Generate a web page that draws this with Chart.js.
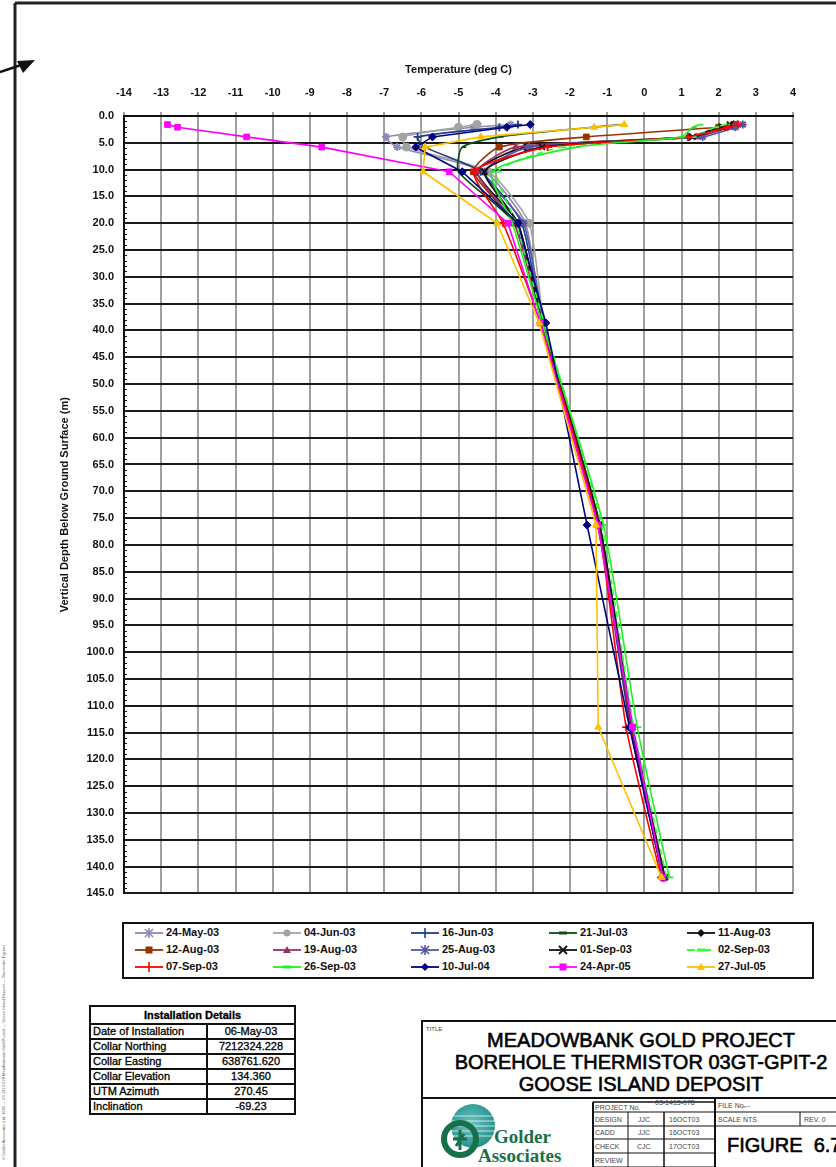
<!DOCTYPE html>
<html>
<head>
<meta charset="utf-8">
<script src="https://cdn.jsdelivr.net/npm/chart.js@4.4.1/dist/chart.umd.min.js"></script>
<style>
  body { margin: 0; background: #fff; font-family: "Liberation Sans", Arial, sans-serif; }
  #page { position: relative; width: 836px; height: 1167px; overflow: hidden; background: #fff; }
  #chartWrap { position: absolute; left: 0; top: 0; width: 836px; height: 910px; }
  #frame { position: absolute; left: 0; top: 0; }
  #legend { position: absolute; left: 122px; top: 922px; width: 688px; height: 53px; border: 2px solid #111; }
  .lg { position: absolute; height: 14px; font-size: 11px; font-weight: bold; color: #111; white-space: nowrap; }
  .lg svg { position: absolute; left: 0; top: 1px; }
  .lg span { position: absolute; left: 33px; top: 0; }
  #install { position: absolute; left: 89px; top: 1005px; border-collapse: collapse; font-size: 11px; color: #000; -webkit-text-stroke: 0.3px #000; }
  #install td { border: 2px solid #111; padding: 0 2px; height: 13px; line-height: 13px; }
  #install td.v { text-align: center; width: 82px; }
  #install td.k { width: 111px; }
  #install th { border: 2px solid #111; font-weight: bold; height: 14px; line-height: 14px; }
  #titleBlock { position: absolute; left: 421px; top: 1020px; width: 430px; height: 160px; border: 2px solid #111; }
  .tb { position: absolute; color: #000; white-space: nowrap; }
  .big { -webkit-text-stroke: 0.6px #000; }
  .sm { font-size: 7px; color: #444; }
  #sideText { position: absolute; left: 1px; top: 1160px; transform-origin: 0 0; transform: rotate(-90deg); font-size: 4px; color: #555; white-space: nowrap; }
</style>
</head>
<body>
<div id="page">
  <svg id="frame" width="836" height="1167">
    <line x1="15" y1="3" x2="836" y2="3" stroke="#222" stroke-width="3"/>
    <line x1="15" y1="3" x2="15" y2="1167" stroke="#222" stroke-width="3"/>
    <line x1="0" y1="72" x2="24" y2="64" stroke="#111" stroke-width="2.5"/>
    <polygon points="17,61 35,60 23,73" fill="#111"/>
  </svg>
  <div id="chartWrap"><canvas id="thermChart" width="836" height="910"></canvas></div>
  <div id="legend"></div>

  <table id="install">
    <tr><th colspan="2">Installation Details</th></tr>
    <tr><td class="k">Date of Installation</td><td class="v">06-May-03</td></tr>
    <tr><td class="k">Collar Northing</td><td class="v">7212324.228</td></tr>
    <tr><td class="k">Collar Easting</td><td class="v">638761.620</td></tr>
    <tr><td class="k">Collar Elevation</td><td class="v">134.360</td></tr>
    <tr><td class="k">UTM Azimuth</td><td class="v">270.45</td></tr>
    <tr><td class="k">Inclination</td><td class="v">-69.23</td></tr>
  </table>

  <div id="titleBlock">
    <div class="tb sm" style="left:3px;top:4px;font-size:6px;">TITLE</div>
    <div class="tb big" style="left:0;width:436px;top:7px;text-align:center;font-size:20px;line-height:22px;">MEADOWBANK GOLD PROJECT<br>BOREHOLE THERMISTOR 03GT-GPIT-2<br>GOOSE ISLAND DEPOSIT</div>
    <svg style="position:absolute;left:0;top:0" width="430" height="160">
      <line x1="0" y1="76" x2="430" y2="76" stroke="#111" stroke-width="2"/>
      <line x1="170" y1="80" x2="170" y2="160" stroke="#111" stroke-width="2"/>
      <line x1="170" y1="80" x2="292" y2="80" stroke="#111" stroke-width="1.5"/>
      <line x1="292" y1="76" x2="292" y2="160" stroke="#111" stroke-width="2"/>
      <line x1="170" y1="90" x2="430" y2="90" stroke="#111" stroke-width="1"/>
      <line x1="170" y1="104" x2="430" y2="104" stroke="#111" stroke-width="1"/>
      <line x1="170" y1="117" x2="292" y2="117" stroke="#111" stroke-width="1"/>
      <line x1="170" y1="131" x2="292" y2="131" stroke="#111" stroke-width="1"/>
      <line x1="170" y1="145" x2="292" y2="145" stroke="#111" stroke-width="1"/>
      <line x1="205" y1="90" x2="205" y2="145" stroke="#111" stroke-width="1"/>
      <line x1="241" y1="90" x2="241" y2="160" stroke="#111" stroke-width="1.5"/>
      <line x1="377" y1="90" x2="377" y2="104" stroke="#111" stroke-width="1"/>
      <!-- Golder logo -->
      <defs>
        <radialGradient id="gl" cx="0.45" cy="0.45" r="0.6">
          <stop offset="0" stop-color="#6fc3c0"/>
          <stop offset="1" stop-color="#1f8f8a"/>
        </radialGradient>
      </defs>
      <circle cx="50" cy="104" r="22" fill="url(#gl)"/>
      <g stroke="#fff" stroke-width="1" opacity="0.7">
        <line x1="28" y1="94" x2="72" y2="94"/><line x1="28" y1="99" x2="72" y2="99"/>
        <line x1="28" y1="104" x2="72" y2="104"/><line x1="28" y1="109" x2="72" y2="109"/>
        <line x1="30" y1="114" x2="70" y2="114"/>
      </g>
      <circle cx="37" cy="117" r="16" fill="none" stroke="#17704a" stroke-width="6"/>
      <path d="M30 117 L44 117 M37 108 L37 128 M33 124 L41 112" stroke="#17704a" stroke-width="3" fill="none"/>
      <text x="71" y="121" font-family="Liberation Serif, serif" font-weight="bold" font-size="19" fill="#17704a">Golder</text>
      <text x="55" y="140" font-family="Liberation Serif, serif" font-weight="bold" font-size="19" fill="#17704a">Associates</text>
    </svg>
    <div class="tb sm" style="left:172px;top:82px;">PROJECT No.</div>
    <div class="tb sm" style="left:232px;top:77px;">03-1413-078</div>
    <div class="tb sm" style="left:295px;top:80px;">FILE No.</div>
    <div class="tb sm" style="left:320px;top:80px;">---</div>
    <div class="tb sm" style="left:172px;top:94px;">DESIGN</div>
    <div class="tb sm" style="left:215px;top:94px;">JJC</div>
    <div class="tb sm" style="left:246px;top:94px;">16OCT03</div>
    <div class="tb sm" style="left:295px;top:94px;">SCALE</div>
    <div class="tb sm" style="left:320px;top:94px;">NTS</div>
    <div class="tb sm" style="left:381px;top:94px;">REV. 0</div>
    <div class="tb sm" style="left:172px;top:107px;">CADD</div>
    <div class="tb sm" style="left:215px;top:107px;">JJC</div>
    <div class="tb sm" style="left:246px;top:107px;">16OCT03</div>
    <div class="tb sm" style="left:172px;top:121px;">CHECK</div>
    <div class="tb sm" style="left:214px;top:121px;">CJC</div>
    <div class="tb sm" style="left:246px;top:121px;">17OCT03</div>
    <div class="tb sm" style="left:172px;top:135px;">REVIEW</div>
    <div class="tb big" style="left:304px;top:112px;font-size:20px;">FIGURE&nbsp; 6.7</div>
  </div>

  <div id="sideText">© Golder Associates Ltd. 2005 — 03-1413-078 Meadowbank Gold Project — Goose Island Deposit — Thermistor Figures</div>
</div>

<script>
// thermistor depths (m) and read temperatures (deg C)
const depths = [1.6, 2.1, 3.9, 5.8, 10.4, 20.0, 38.6, 76.3, 114.0, 142.0];

const seriesLabels = ['24-May-03', '04-Jun-03', '16-Jun-03', '21-Jul-03', '11-Aug-03',
                      '12-Aug-03', '19-Aug-03', '25-Aug-03', '01-Sep-03', '02-Sep-03',
                      '07-Sep-03', '26-Sep-03', '10-Jul-04', '24-Apr-05', '27-Jul-05'];

const t24May03 = [-3.6, -4.6, -6.95, -6.65, -4.3, -3.2, -2.75, -1.25, -0.35, 0.5];
const t04Jun03 = [-4.5, -5.0, -6.5, -6.4, -4.2, -3.1, -2.7, -1.25, -0.35, 0.5];
const t16Jun03 = [-3.4, -3.9, -6.1, -5.9, -4.4, -3.3, -2.75, -1.25, -0.38, 0.5];
const t21Jul03 = [-0.6, -1.4, -3.9, -4.9, -5.0, -3.5, -2.75, -1.2, -0.35, 0.55];
const t11Aug03 = [2.4, 2.0, 1.2, -3.2, -4.5, -3.4, -2.75, -1.2, -0.35, 0.55];
const t12Aug03 = [2.4, 2.0, -1.56, -3.9, -4.6, -3.5, -2.75, -1.2, -0.35, 0.55];
const t19Aug03 = [2.5, 2.3, 1.4, -3.46, -4.5, -3.5, -2.75, -1.2, -0.35, 0.55];
const t25Aug03 = [2.65, 2.45, 1.57, -3.1, -4.3, -3.25, -2.7, -1.2, -0.3, 0.55];
const t01Sep03 = [2.3, 2.1, 1.3, -2.75, -4.3, -3.4, -2.75, -1.2, -0.33, 0.55];
const t02Sep03 = [2.2, 1.9, 1.3, -2.2, -3.95, -3.45, -2.7, -1.15, -0.28, 0.6];
const t07Sep03 = [2.53, 2.24, 1.17, -2.6, -4.58, -3.8, -2.8, -1.25, -0.49, 0.45];
const t26Sep03 = [1.48, 1.3, 1.0, -1.83, -4.1, -3.55, -2.75, -1.1, -0.19, 0.67];
const t10Jul04 = [-3.07, -3.7, -5.7, -6.15, -4.9, -3.4, -2.65, -1.54, -0.4, 0.5];
const t24Apr05 = [-12.83, -12.56, -10.7, -8.68, -5.25, -3.67, -2.8, -1.25, -0.32, 0.5];
const t27Jul05 = [-0.54, -1.35, -4.4, -5.9, -5.95, -3.96, -2.83, -1.3, -1.24, 0.46];

const seriesTemps = [t24May03, t04Jun03, t16Jun03, t21Jul03, t11Aug03, t12Aug03, t19Aug03, t25Aug03,
                     t01Sep03, t02Sep03, t07Sep03, t26Sep03, t10Jul04, t24Apr05, t27Jul05];

const tempTicks = [-14, -13, -12, -11, -10, -9, -8, -7, -6, -5, -4, -3, -2, -1, 0, 1, 2, 3, 4];
const depthTicks = [0, 5, 10, 15, 20, 25, 30, 35, 40, 45, 50, 55, 60, 65, 70, 75, 80, 85, 90, 95, 100,
                    105, 110, 115, 120, 125, 130, 135, 140, 145];

// styling per series
const colors = ['#8a8ab8', '#a3a3a3', '#1f3c88', '#0b4d12', '#111111', '#993300', '#993366', '#5555aa',
                '#111111', '#33ff33', '#ff0000', '#22ee22', '#000080', '#ff00ff', '#ffc000'];
const markers = ['star', 'circle', 'cross', 'dash', 'rectRot', 'rect', 'triangle', 'star',
                 'crossRot', 'dash', 'cross', 'dash', 'rectRot', 'rect', 'triangle'];

const datasets = seriesLabels.map((label, i) => ({
  label,
  data: depths.map((d, k) => ({ x: seriesTemps[i][k], y: d })),
  showLine: true,
  borderColor: colors[i],
  backgroundColor: colors[i],
  borderWidth: 1.6,
  borderDash: label === '02-Sep-03' ? [6, 5] : [],
  pointStyle: markers[i],
  pointRadius: 4,
  pointBorderWidth: markers[i].startsWith('cross') || markers[i] === 'star' || markers[i] === 'dash' ? 1.8 : 1,
  tension: i < 12 ? 0.2 : 0,
  order: seriesLabels.length - i
}));

// small minor ticks along the depth axis
const minorTicks = {
  id: 'minorTicks',
  afterDraw(chart) {
    const { ctx, chartArea } = chart;
    const y = chart.scales.y;
    ctx.save();
    ctx.strokeStyle = '#111';
    ctx.lineWidth = 1;
    for (let d = 1; d < 145; d++) {
      if (d % 5 === 0) continue;
      const py = Math.round(y.getPixelForValue(d)) + 0.5;
      ctx.beginPath();
      ctx.moveTo(chartArea.left, py);
      ctx.lineTo(chartArea.left + 3, py);
      ctx.stroke();
    }
    ctx.restore();
  }
};

const tickFont = { family: '"Liberation Sans", Arial, sans-serif', size: 11, weight: 'bold' };

new Chart(document.getElementById('thermChart').getContext('2d'), {
  type: 'scatter',
  data: { datasets },
  options: {
    responsive: false,
    animation: false,
    layout: { padding: { left: 50, top: 55, right: 43, bottom: 14 } },
    plugins: { legend: { display: false }, tooltip: { enabled: false } },
    scales: {
      x: {
        type: 'linear',
        position: 'top',
        min: -14,
        max: 4,
        afterBuildTicks: scale => { scale.ticks = tempTicks.map(v => ({ value: v })); },
        afterFit: scale => { scale.height = 61; },
        ticks: { font: tickFont, color: '#111', padding: 12, maxRotation: 0, autoSkip: false },
        grid: { color: '#a0a0a0', lineWidth: 2, drawTicks: true, tickLength: 4 },
        border: { color: '#111', width: 2 },
        title: { display: true, text: 'Temperature (deg C)', font: tickFont, color: '#111', padding: { top: 8 } }
      },
      y: {
        type: 'linear',
        reverse: true,
        min: 0,
        max: 145,
        afterBuildTicks: scale => { scale.ticks = depthTicks.map(v => ({ value: v })); },
        afterFit: scale => { scale.width = 74; },
        ticks: { font: tickFont, color: '#111', padding: 10, autoSkip: false, callback: v => v.toFixed(1) },
        grid: { color: '#1a1a1a', lineWidth: 2, drawTicks: false },
        border: { color: '#111', width: 2 },
        title: { display: true, text: 'Vertical Depth Below Ground Surface (m)', font: tickFont, color: '#111', padding: { top: 8 } }
      }
    }
  },
  plugins: [minorTicks]
});

// legend as a boxed 5 x 3 grid, like the report
function markerSvg(style, c) {
  const cx = 16, cy = 6;
  switch (style) {
    case 'rect': return `<rect x="${cx - 3.5}" y="${cy - 3.5}" width="7" height="7" fill="${c}"/>`;
    case 'circle': return `<circle cx="${cx}" cy="${cy}" r="3.5" fill="${c}"/>`;
    case 'triangle': return `<polygon points="${cx},${cy - 4} ${cx + 4},${cy + 3} ${cx - 4},${cy + 3}" fill="${c}"/>`;
    case 'rectRot': return `<polygon points="${cx},${cy - 4} ${cx + 4},${cy} ${cx},${cy + 4} ${cx - 4},${cy}" fill="${c}"/>`;
    case 'cross': return `<line x1="${cx}" y1="${cy - 5}" x2="${cx}" y2="${cy + 5}" stroke="${c}" stroke-width="1.6"/>`;
    case 'crossRot': return `<path d="M${cx - 4} ${cy - 4}L${cx + 4} ${cy + 4}M${cx + 4} ${cy - 4}L${cx - 4} ${cy + 4}" stroke="${c}" stroke-width="1.8"/>`;
    case 'star': return `<path d="M${cx - 4} ${cy - 4}L${cx + 4} ${cy + 4}M${cx + 4} ${cy - 4}L${cx - 4} ${cy + 4}M${cx} ${cy - 5}L${cx} ${cy + 5}" stroke="${c}" stroke-width="1.6"/>`;
    case 'dash': return `<line x1="${cx - 4}" y1="${cy}" x2="${cx + 4}" y2="${cy}" stroke="${c}" stroke-width="3"/>`;
  }
  return '';
}

const legend = document.getElementById('legend');
seriesLabels.forEach((label, i) => {
  const col = i % 5, row = Math.floor(i / 5);
  const item = document.createElement('div');
  item.className = 'lg';
  item.style.left = (9 + col * 138) + 'px';
  item.style.top = (2 + row * 17) + 'px';
  const dash = label === '02-Sep-03' ? 'stroke-dasharray="8 8"' : '';
  item.innerHTML = `<svg width="32" height="12"><line x1="2" y1="6" x2="30" y2="6" stroke="${colors[i]}" stroke-width="1.8" ${dash}/>` +
    markerSvg(markers[i], colors[i]) + `</svg><span>${label}</span>`;
  legend.appendChild(item);
});
</script>
</body>
</html>
